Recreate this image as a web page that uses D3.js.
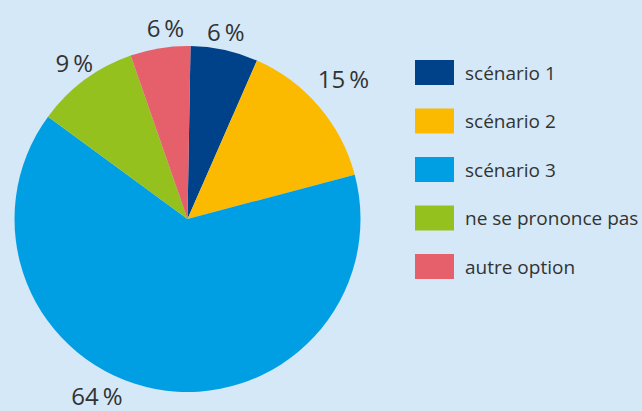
<!DOCTYPE html>
<html><head><meta charset="utf-8">
<script src="https://cdn.jsdelivr.net/npm/d3@7"></script>
<style>
html,body{margin:0;padding:0;background:#d4e8f7;}
svg{display:block;}
text{font-family:"Open Sans","Noto Sans",sans-serif;fill:#333;}
</style></head><body>
<svg id="chart" width="642" height="411"></svg>
<script>
const categories = ["scénario 1", "scénario 2", "scénario 3", "ne se prononce pas", "autre option"];
const values = [6.3, 14.3, 64.2, 9.6, 5.6];
const valueLabels = ["6\u2009%", "15\u2009%", "64\u2009%", "9\u2009%", "6\u2009%"];
const colors = ["#00428a", "#fbb900", "#009fe3", "#95c11f", "#e5606a"];

const W = 642, H = 411;
const cx = 187.5, cy = 219, R = 173;
const startDeg = 1;

const svg = d3.select("#chart");
svg.append("rect").attr("width", W).attr("height", H).attr("fill", "#d4e8f7");

const data = categories.map((c, i) => ({cat: c, value: values[i], label: valueLabels[i], color: colors[i]}));

const pie = d3.pie().value(d => d.value).sort(null)
  .startAngle(startDeg * Math.PI / 180)
  .endAngle(startDeg * Math.PI / 180 + 2 * Math.PI);
const arcs = pie(data);
const arc = d3.arc().innerRadius(0).outerRadius(R);

const g = svg.append("g").attr("transform", `translate(${cx},${cy})`);
g.selectAll("path").data(arcs).enter().append("path")
  .attr("d", arc).attr("fill", d => d.data.color);

const labelR = [191, 210, 198, 193, 193];
const labelShift = [-0.8, -1.5, 16.5, 0.5, 2.5]; // degrees
g.selectAll("text.val").data(arcs).enter().append("text")
  .attr("class", "val")
  .attr("text-anchor", "middle")
  .attr("dominant-baseline", "central")
  .attr("font-size", 24)
  .attr("x", (d, i) => {
    const a = (d.startAngle + d.endAngle) / 2 + labelShift[i] * Math.PI / 180;
    return Math.sin(a) * labelR[i];
  })
  .attr("y", (d, i) => {
    const a = (d.startAngle + d.endAngle) / 2 + labelShift[i] * Math.PI / 180;
    return -Math.cos(a) * labelR[i];
  })
  .text(d => d.data.label);

const ly = d3.scalePoint().domain(categories).range([60, 254]);
const leg = svg.append("g");
const items = leg.selectAll("g").data(data).enter().append("g")
  .attr("transform", d => `translate(415,${ly(d.cat)})`);
items.append("rect").attr("width", 39).attr("height", 25).attr("fill", d => d.color);
items.append("text").attr("x", 50).attr("y", 12.5)
  .attr("dominant-baseline", "central")
  .attr("font-size", 19)
  .text(d => d.cat);
</script>
</body></html>
